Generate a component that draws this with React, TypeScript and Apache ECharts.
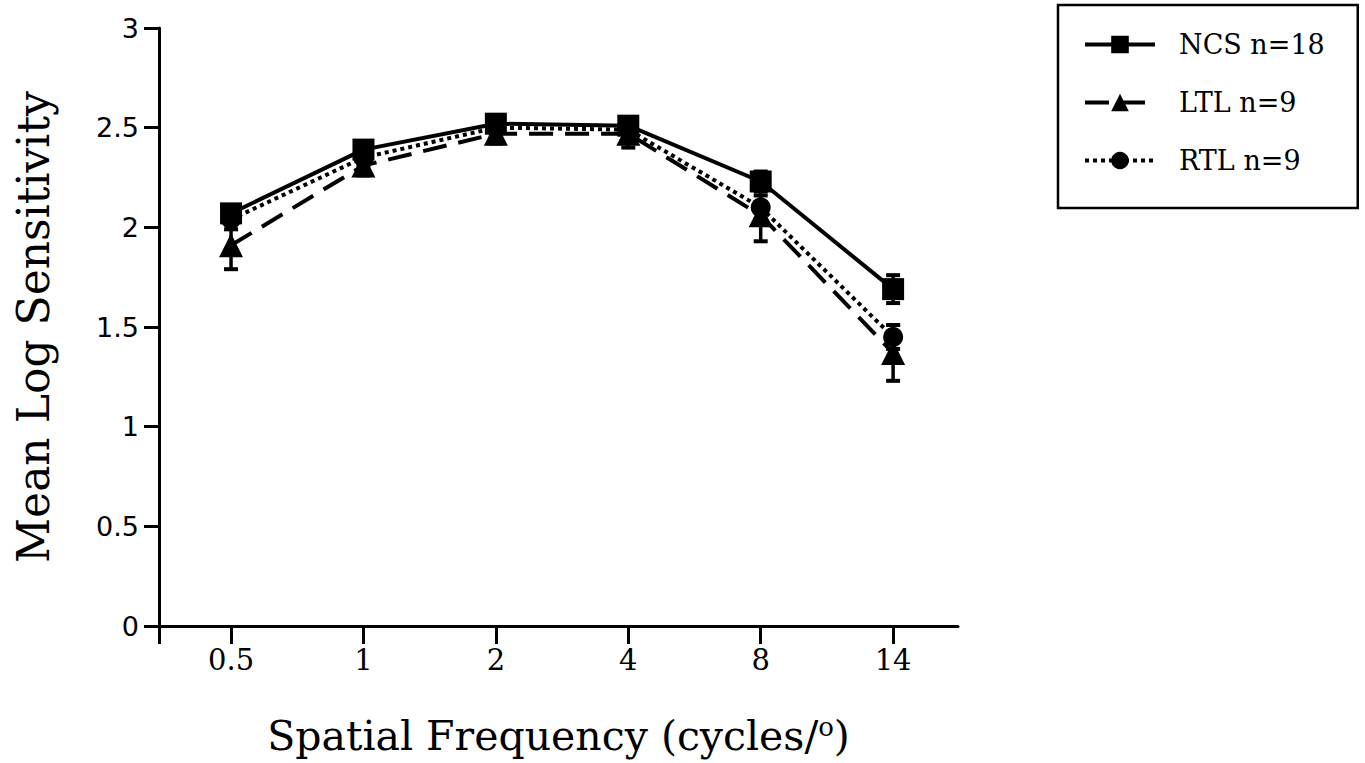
import React, { useEffect, useRef } from "react";
import * as echarts from "echarts";

// Spatial frequency categories (cycles per degree)
const freqLabels = ["0.5", "1", "2", "4", "8", "14"];

// Mean log contrast sensitivity per group, with standard errors
const ncsMean = [2.07, 2.39, 2.52, 2.51, 2.23, 1.69];
const ncsErr = [0.04, 0.04, 0.04, 0.04, 0.05, 0.07];
const ltlMean = [1.91, 2.31, 2.47, 2.47, 2.06, 1.37];
const ltlErr = [0.12, 0.05, 0.05, 0.07, 0.13, 0.14];
const rtlMean = [2.04, 2.35, 2.5, 2.49, 2.1, 1.45];
const rtlErr = [0.05, 0.04, 0.04, 0.04, 0.06, 0.06];

const yTicks = [0, 0.5, 1, 1.5, 2, 2.5, 3];

const seriesNames = ["NCS n=18", "LTL n=9", "RTL n=9"];

const X_MIN = -0.544;
const X_MAX = 5.49;

const SERIF = "'DejaVu Serif', 'Liberation Serif', serif";
const SANS = "'DejaVu Sans', 'Liberation Sans', sans-serif";

function points(values: number[]) {
  return values.map((v, i) => [i, v]);
}

function errorData(values: number[], errs: number[]) {
  return values.map((v, i) => [i, v - errs[i], v + errs[i]]);
}

function errorBarSeries(values: number[], errs: number[]) {
  return {
    type: "custom",
    silent: true,
    z: 1,
    encode: { x: 0, y: [1, 2] },
    data: errorData(values, errs),
    renderItem: (_params: any, api: any) => {
      const x = api.value(0);
      const lo = api.coord([x, api.value(1)]);
      const hi = api.coord([x, api.value(2)]);
      const cap = 7;
      return {
        type: "group",
        children: [
          { type: "line", shape: { x1: lo[0], y1: lo[1], x2: hi[0], y2: hi[1] }, style: { stroke: "#000", lineWidth: 3.5 } },
          { type: "line", shape: { x1: lo[0] - cap, y1: lo[1], x2: lo[0] + cap, y2: lo[1] }, style: { stroke: "#000", lineWidth: 4 } },
          { type: "line", shape: { x1: hi[0] - cap, y1: hi[1], x2: hi[0] + cap, y2: hi[1] }, style: { stroke: "#000", lineWidth: 4 } },
        ],
      };
    },
  };
}

export default function App() {
  const ref = useRef<HTMLDivElement>(null);

  useEffect(() => {
    if (!ref.current) return;
    const chart = echarts.init(ref.current, undefined, { renderer: "svg" });

    chart.setOption({
      animation: false,
      backgroundColor: "#fff",
      grid: { left: 159, top: 28, right: 407, bottom: 137, containLabel: false },
      legend: {
        orient: "vertical",
        left: 1058,
        top: 5,
        data: seriesNames,
        itemWidth: 70,
        itemHeight: 22,
        itemGap: 31,
        padding: [26, 33, 34, 25],
        borderColor: "#000",
        borderWidth: 2.5,
        lineStyle: { width: 4 },
        textStyle: {
          fontFamily: SERIF,
          fontSize: 27,
          color: "#000",
          padding: [0, 0, 0, 19],
        },
      },
      xAxis: {
        type: "value",
        min: X_MIN,
        max: X_MAX,
        name: "Spatial Frequency (cycles/{sup|o})",
        nameLocation: "middle",
        nameGap: 88,
        nameTextStyle: {
          fontFamily: SERIF,
          fontSize: 41,
          color: "#000",
          rich: {
            sup: {
              fontFamily: SERIF,
              fontSize: 26,
              color: "#000",
              verticalAlign: "top",
              padding: [0, 0, 18, 0],
            },
          },
        },
        splitLine: { show: false },
        axisLine: { onZero: false, lineStyle: { color: "#000", width: 3 } },
        axisTick: {
          show: true,
          length: 18,
          customValues: [X_MIN, 0, 1, 2, 3, 4, 5],
          lineStyle: { color: "#000", width: 3 },
        },
        axisLabel: {
          customValues: [0, 1, 2, 3, 4, 5],
          formatter: (v: number) => freqLabels[Math.round(v)] ?? "",
          margin: 19,
          fontFamily: SERIF,
          fontSize: 29,
          color: "#000",
        },
      },
      yAxis: {
        type: "value",
        min: 0,
        max: 3,
        interval: 0.5,
        name: "Mean Log Sensitivity",
        nameLocation: "middle",
        nameGap: 104,
        nameTextStyle: { fontFamily: SERIF, fontSize: 44, color: "#000" },
        splitLine: { show: false },
        axisLine: { show: true, onZero: false, lineStyle: { color: "#000", width: 3 } },
        axisTick: { show: true, length: 15, lineStyle: { color: "#000", width: 3 } },
        axisLabel: {
          margin: 20,
          fontFamily: SANS,
          fontSize: 27,
          color: "#000",
          formatter: (v: number) => (yTicks.includes(v) ? String(v) : ""),
        },
      },
      series: [
        errorBarSeries(ltlMean, ltlErr),
        errorBarSeries(rtlMean, rtlErr),
        errorBarSeries(ncsMean, ncsErr),
        {
          name: seriesNames[1],
          type: "line",
          z: 2,
          data: points(ltlMean),
          symbol: "triangle",
          symbolSize: 24,
          itemStyle: { color: "#000" },
          lineStyle: { color: "#000", width: 4, type: [24, 12] },
        },
        {
          name: seriesNames[2],
          type: "line",
          z: 3,
          data: points(rtlMean),
          symbol: "circle",
          symbolSize: 20,
          itemStyle: { color: "#000" },
          lineStyle: { color: "#000", width: 4, type: [4, 4] },
        },
        {
          name: seriesNames[0],
          type: "line",
          z: 4,
          data: points(ncsMean),
          symbol: "rect",
          symbolSize: 22,
          itemStyle: { color: "#000" },
          lineStyle: { color: "#000", width: 4, type: "solid" },
        },
      ],
    });

    return () => chart.dispose();
  }, []);

  return (
    <div
      ref={ref}
      style={{ position: "fixed", left: 0, top: 0, width: 1365, height: 763, background: "#fff" }}
    />
  );
}
